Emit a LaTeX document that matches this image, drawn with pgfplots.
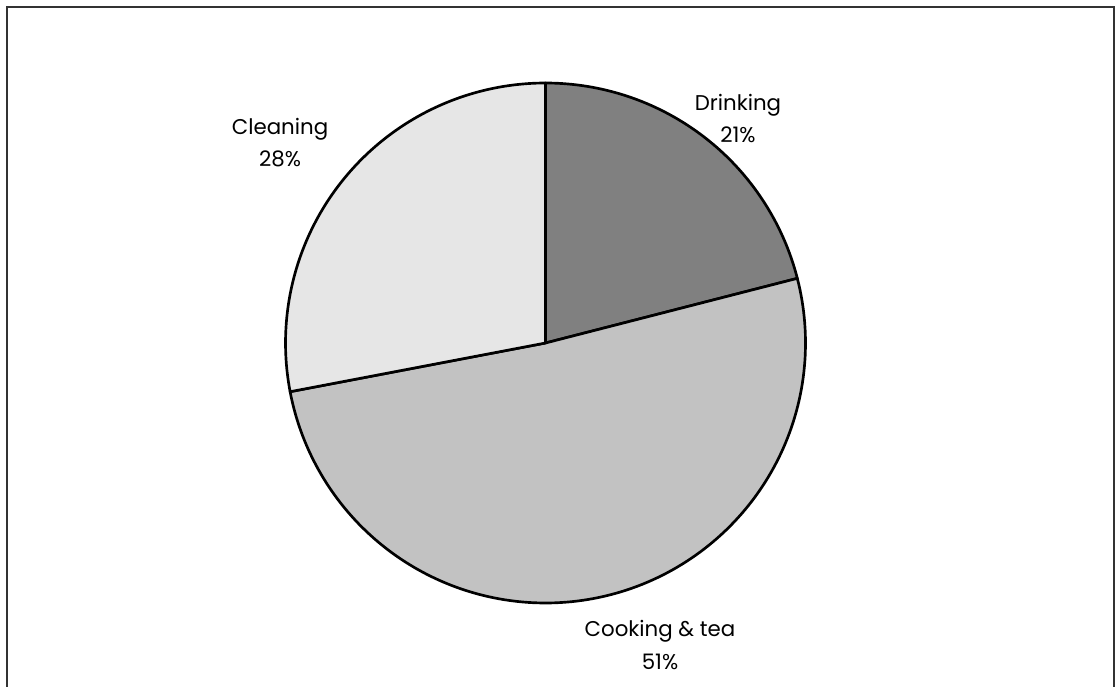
\documentclass[border=0pt]{standalone}
\usepackage{pgfplots}
\pgfplotsset{compat=1.18}
\usepackage{fontspec}
\setmainfont{Poppins}
\definecolor{cDrink}{HTML}{808080}
\definecolor{cCook}{HTML}{C2C2C2}
\definecolor{cClean}{HTML}{E6E6E6}
\definecolor{cBorder}{HTML}{333333}
% data (percent)
\def\vDrink{21}
\def\vCook{51}
\def\vClean{28}
\pgfmathsetmacro{\aA}{90}
\pgfmathsetmacro{\aB}{\aA-3.6*\vDrink}
\pgfmathsetmacro{\aC}{\aB-3.6*\vCook}
\pgfmathsetmacro{\aD}{\aC-3.6*\vClean}
\begin{document}
\begin{tikzpicture}
\begin{axis}[
  at={(0,0)}, anchor=south west,
  width=839.25pt, height=514.5pt, scale only axis,
  xmin=0, xmax=1119, ymin=0, ymax=686,
  axis lines=none, ticks=none,
  clip=true,
]
\def\cx{545.5}
\def\cy{343}
\def\r{260}
\addplot[fill=cDrink, draw=black, line width=2pt, line join=round, domain=\aA:\aB, samples=80, variable=\t]
  ({\cx+\r*cos(t)},{\cy+\r*sin(t)}) -- (axis cs:\cx,\cy) -- cycle;
\addplot[fill=cCook, draw=black, line width=2pt, line join=round, domain=\aB:\aC, samples=150, variable=\t]
  ({\cx+\r*cos(t)},{\cy+\r*sin(t)}) -- (axis cs:\cx,\cy) -- cycle;
\addplot[fill=cClean, draw=black, line width=2pt, line join=round, domain=\aC:\aD, samples=100, variable=\t]
  ({\cx+\r*cos(t)},{\cy+\r*sin(t)}) -- (axis cs:\cx,\cy) -- cycle;
% outer border
\addplot[draw=cBorder, line width=1.5pt] coordinates {(7,-10) (7,679) (1113.5,679) (1113.5,-10)};
\node[font=\fontsize{16}{24.5}\selectfont, align=center] at (axis cs:738,567.5) {Drinking\\21\%};
\node[font=\fontsize{16}{24.5}\selectfont, align=center] at (axis cs:280,543.5) {Cleaning\\28\%};
\node[font=\fontsize{16}{24.5}\selectfont, align=center] at (axis cs:660,41) {Cooking \& tea\\51\%};
\end{axis}
\pgfresetboundingbox
\useasboundingbox (0,0) rectangle (839.25pt,514.5pt);
\end{tikzpicture}
\end{document}
